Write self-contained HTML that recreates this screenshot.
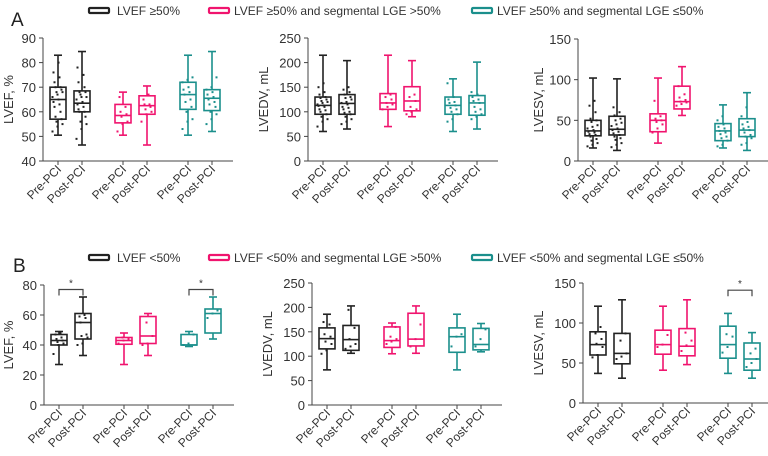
<!DOCTYPE html>
<html><head><meta charset="utf-8"><style>
body{margin:0;background:#fff}
svg{display:block;font-family:"Liberation Sans",Arial,sans-serif}
</style></head><body>
<svg id="c" width="768" height="456" viewBox="0 0 768 456">
<text x="11" y="26" font-size="19" fill="#222">A</text>
<text x="13" y="272" font-size="19" fill="#222">B</text>
<g>
<rect x="89" y="8" width="20" height="5" rx="1" fill="none" stroke="#222" stroke-width="2.2"/>
<text x="117" y="15" font-size="12" fill="#333">LVEF ≥50%</text>
<rect x="209" y="8" width="20" height="5" rx="1" fill="none" stroke="#f0146e" stroke-width="2.2"/>
<text x="234" y="15" font-size="12" fill="#333">LVEF ≥50% and segmental LGE &gt;50%</text>
<rect x="472" y="8" width="20" height="5" rx="1" fill="none" stroke="#1b8f8c" stroke-width="2.2"/>
<text x="497" y="15" font-size="12" fill="#333">LVEF ≥50% and segmental LGE ≤50%</text>
</g>
<g>
<rect x="89" y="255" width="20" height="5" rx="1" fill="none" stroke="#222" stroke-width="2.2"/>
<text x="117" y="262" font-size="12" fill="#333">LVEF &lt;50%</text>
<rect x="209" y="255" width="20" height="5" rx="1" fill="none" stroke="#f0146e" stroke-width="2.2"/>
<text x="234" y="262" font-size="12" fill="#333">LVEF &lt;50% and segmental LGE &gt;50%</text>
<rect x="472" y="255" width="20" height="5" rx="1" fill="none" stroke="#1b8f8c" stroke-width="2.2"/>
<text x="497" y="262" font-size="12" fill="#333">LVEF &lt;50% and segmental LGE ≤50%</text>
</g>
</svg>
<script>
// categories
const categories = ["Pre-PCI","Post-PCI","Pre-PCI","Post-PCI","Pre-PCI","Post-PCI"];
// box stats per panel: [min, q1, median, q3, max]
const a1Boxes = [[50.5,57,65,70,83],[46.5,60,63.5,68.5,84.5],[50.5,55.5,58.5,63,68],[46.5,59,62.5,66.5,70.5],[50.5,61,67,72,83],[52,60.5,65.5,69,84.5]];
const a2Boxes = [[60,95,113,130,215],[65,95,117,135,204],[70,105,118,137,215],[90,102,122,151,204],[60,95,113,130,167],[65,93,118,133,201]];
const a3Boxes = [[16,31,37,50,102],[13,32,39,55,101],[22,36,50,58,102],[56,64,73,92,116],[16,25,37,46,69],[13,30,38,52,84]];
const b1Boxes = [[27,40,43,47,49],[33,44,55,61,72],[27,40.5,43,45,48],[33,41,46,59,61],[39,40,40,47,49],[44,48,61,64,72]];
const b2Boxes = [[72,115,136,158,186],[106,112,134,163,203],[105,118,132,160,168],[106,121,135,188,203],[72,108,140,158,186],[109,113,124,157,167]];
const b3Boxes = [[37,60,73,89,121],[31,49,62,87,129],[41,61,73,91,121],[48,59,71,93,129],[37,56,73,96,112],[31,41,55,75,88]];
// individual points (estimated)
const a1Dots = [[52,54,55,56,57,58,60,62,63,64,65,66,67,68,68,69,70,70,72,74,76,80],[49,53,55,56,58,60,60,61,62,63,64,65,66,66,67,68,68,70,72,75,78],[52,55,56,58,59,60,62,66],[56,59,60,61,62,63,63,65,67],[53,56,57,60,62,64,65,67,68,69,70,72,73,74],[55,57,59,60,62,63,64,65,66,67,68,69,70,74]];
const a2Dots = [[70,80,85,90,95,100,103,105,110,112,113,115,118,120,122,125,128,130,135,140,150,158],[75,80,85,90,95,98,100,105,108,110,115,118,120,125,128,130,135,140,145,150],[105,110,115,118,125,130,135],[95,100,105,110,122,130,135],[80,85,95,100,105,108,113,118,120,125,130,158],[85,90,95,100,105,110,118,122,125,130,135,140]];
const a3Dots = [[18,20,22,25,27,30,32,33,35,36,38,40,42,44,48,50,52,60,68,74],[17,20,22,26,28,30,32,34,36,38,40,43,45,47,50,52,56,60,66],[35,40,45,48,50,52,55,74],[68,70,72,73,75,78,82,92],[18,20,25,28,30,33,35,37,40,42,45,50,55],[20,22,28,30,32,35,38,40,42,45,48,55,66]];
const b1Dots = [[34,40,41,42,43,44,45,47,48],[40,41,45,46,47,55,58,59,60],[41,43,44,45],[40,41,46,55],[40,41,47],[58,61,63]];
const b2Dots = [[105,112,125,130,140,145,165,170],[115,120,125,135,158,195],[125,130,135,140,160],[120,135,165],[120,140,145],[120,135,155]];
const b3Dots = [[57,60,70,74,80,87,95],[55,58,62,78,87],[70,73,85],[65,72,78,88],[63,70,83,86],[45,50,55,62,68]];
// y tick labels
const a1Ticks = [40,50,60,70,80,90];
const a2Ticks = [0,50,100,150,200,250];
const a3Ticks = [0,50,100,150];
const b1Ticks = [0,20,40,60,80];
const b2Ticks = [0,50,100,150,200,250];
const b3Ticks = [0,50,100,150];
// significance: [fromIndex, toIndex, value]
const b1Sig = [[0,1,77],[4,5,77]];
const b3Sig = [[4,5,141]];

const colors = ["#222","#222","#f0146e","#f0146e","#1b8f8c","#1b8f8c"];
const offsets = [15,39,80,104,145,169];
const NS = "http://www.w3.org/2000/svg";
const svg = document.getElementById("c");
function mk(tag, attrs, parent){const e=document.createElementNS(NS,tag);for(const k in attrs)e.setAttribute(k,attrs[k]);(parent||svg).appendChild(e);return e;}

function panel(id, ax, top, bot, min, max, ticks, boxes, dots, title, titleX, sig){
  const g = mk("g",{});
  
  
  const y = v => bot - (v-min)/(max-min)*(bot-top);
  const x = i => ax + offsets[i];
  const axY = mk("line",{x1:ax,y1:top,x2:ax,y2:bot,stroke:"#444","stroke-width":1},g);
  
  
  const axX = mk("line",{x1:ax,y1:bot,x2:ax+190,y2:bot,stroke:"#444","stroke-width":1},g);
  
  
  ticks.forEach(t=>{
    mk("line",{x1:ax-4,y1:y(t),x2:ax,y2:y(t),stroke:"#444"},g);
    const tl = mk("text",{x:ax-7,y:y(t)+5,"font-size":13,fill:"#333","text-anchor":"end"},g);
    tl.textContent = t;
    
    
  });
  const tt = mk("text",{transform:`translate(${titleX},${(top+bot)/2}) rotate(-90)`,"font-size":13,fill:"#333","text-anchor":"middle"},g);
  tt.textContent = title;
  
  
  boxes.forEach((b,i)=>{
    const cx = x(i), c = colors[i], w = 16;
    mk("line",{x1:cx,y1:bot,x2:cx,y2:bot+4,stroke:"#444"},g);
    const xl = mk("text",{transform:`translate(${cx+4},${bot+9}) rotate(-45)`,"font-size":12,fill:"#333","text-anchor":"end"},g);
    xl.textContent = categories[i];
    
    
    const bg = mk("g",{stroke:c,"stroke-width":1.6,fill:"none"},g);
    
    
    mk("line",{x1:cx,y1:y(b[0]),x2:cx,y2:y(b[1])},bg);
    mk("line",{x1:cx,y1:y(b[3]),x2:cx,y2:y(b[4])},bg);
    mk("line",{x1:cx-4,y1:y(b[0]),x2:cx+4,y2:y(b[0])},bg);
    mk("line",{x1:cx-4,y1:y(b[4]),x2:cx+4,y2:y(b[4])},bg);
    mk("rect",{x:cx-w/2,y:y(b[3]),width:w,height:Math.max(0.5,y(b[1])-y(b[3]))},bg);
    mk("line",{x1:cx-w/2,y1:y(b[2]),x2:cx+w/2,y2:y(b[2])},bg);
    dots[i].forEach((v,j)=>{
      const d = mk("rect",{x:cx+((j*5)%11)-6.5,y:y(v)-1,width:2,height:2,fill:c,stroke:"none"},g);
      
      
    });
  });
  (sig||[]).forEach(s=>{
    const sy = y(s[2]);
    const br = mk("path",{d:`M${x(s[0])},${sy+6}V${sy}H${x(s[1])}V${sy+6}`,fill:"none",stroke:"#444","stroke-width":1.2},g);
    
    
    const st = mk("text",{x:(x(s[0])+x(s[1]))/2,y:sy-3,"font-size":10,fill:"#333","text-anchor":"middle"},g);
    st.textContent = "*";
    
    
  });
}
panel("panel-a-lvef",43,38,161,40,90,a1Ticks,a1Boxes,a1Dots,"LVEF, %",13,null);
panel("panel-a-lvedv",308,38,161,0,250,a2Ticks,a2Boxes,a2Dots,"LVEDV, mL",268,null);
panel("panel-a-lvesv",578,39,161,0,150,a3Ticks,a3Boxes,a3Dots,"LVESV, mL",543,null);
panel("panel-b-lvef",44,285,405,0,80,b1Ticks,b1Boxes,b1Dots,"LVEF, %",13,b1Sig);
panel("panel-b-lvedv",312,283,405,0,250,b2Ticks,b2Boxes,b2Dots,"LVEDV, mL",272,null);
panel("panel-b-lvesv",583,283,403,0,150,b3Ticks,b3Boxes,b3Dots,"LVESV, mL",543,b3Sig);
</script>
</body></html>
